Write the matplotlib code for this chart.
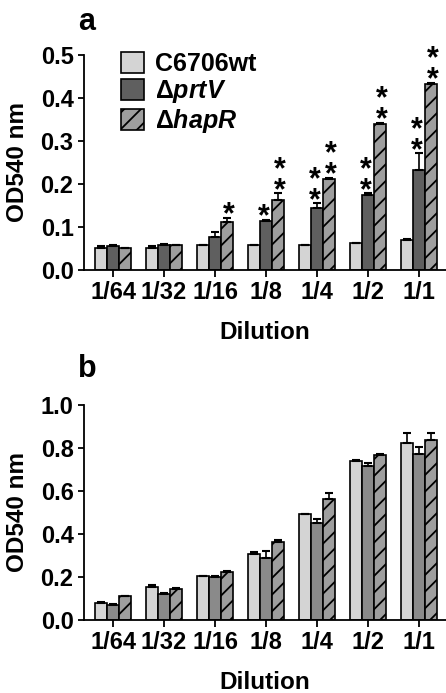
import numpy as np
import matplotlib
matplotlib.use("Agg")
import matplotlib.pyplot as plt

plt.rcParams['font.family'] = ['Liberation Sans', 'DejaVu Sans']
plt.rcParams['font.weight'] = 'bold'
plt.rcParams['hatch.linewidth'] = 1.3
plt.rcParams['mathtext.fontset'] = 'custom'
plt.rcParams['mathtext.rm'] = 'Liberation Sans'
plt.rcParams['mathtext.it'] = 'Liberation Sans:bold:italic'

# Data
dilutions = ['1/64', '1/32', '1/16', '1/8', '1/4', '1/2', '1/1']
strains = ['C6706wt', r'$\mathrm{\Delta}\mathit{prtV}$', r'$\mathrm{\Delta}\mathit{hapR}$']

# panel a
a_wt = [0.052, 0.052, 0.057, 0.057, 0.057, 0.062, 0.069]
a_wt_err = [0.003, 0.003, 0.0, 0.0, 0.0, 0.0, 0.003]
a_prtv = [0.055, 0.057, 0.077, 0.113, 0.145, 0.175, 0.233]
a_prtv_err = [0.002, 0.003, 0.012, 0.003, 0.010, 0.003, 0.038]
a_hapr = [0.052, 0.057, 0.112, 0.162, 0.212, 0.340, 0.433]
a_hapr_err = [0.0, 0.002, 0.010, 0.016, 0.003, 0.003, 0.003]
# significance stars (number of stars per bar)
a_prtv_stars = [0, 0, 0, 1, 2, 2, 2]
a_hapr_stars = [0, 0, 1, 2, 2, 2, 2]

# panel b
b_wt = [0.078, 0.155, 0.206, 0.308, 0.495, 0.738, 0.825]
b_wt_err = [0.006, 0.006, 0.0, 0.006, 0.0, 0.005, 0.045]
b_prtv = [0.070, 0.122, 0.200, 0.287, 0.452, 0.718, 0.770]
b_prtv_err = [0.005, 0.004, 0.006, 0.034, 0.020, 0.010, 0.035]
b_hapr = [0.110, 0.145, 0.223, 0.364, 0.561, 0.768, 0.835]
b_hapr_err = [0.0, 0.006, 0.005, 0.006, 0.032, 0.006, 0.034]

W, H = 446, 693
fig = plt.figure(figsize=(W / 100, H / 100), dpi=100)


def make_axes(top, bottom):
    return fig.add_axes([84 / W, 1 - bottom / H, (W - 84) / W, (bottom - top) / H])


def draw_panel(ax, vals, errs, colors, ymax, yticks):
    x = np.arange(len(dilutions))
    bw = 0.235
    for i, (v, e, c) in enumerate(zip(vals, errs, colors)):
        xi = x + (i - 1) * bw
        hatch = '//' if i == 2 else None
        ax.bar(xi, v, bw, color=c, edgecolor='black', linewidth=1.2,
               hatch=hatch, label=strains[i], zorder=2)
        ax.errorbar(xi, v, yerr=[np.zeros(len(v)), e], fmt='none',
                    ecolor='black', elinewidth=1.2, capsize=3, capthick=1.5, zorder=3)
    ax.set_xlim(-0.57, 6.53)
    ax.set_ylim(0, ymax)
    ax.set_yticks(yticks)
    ax.set_yticklabels([f'{t:.1f}' for t in yticks])
    ax.set_xticks(x)
    ax.set_xticklabels(dilutions)
    for s in ['top', 'right']:
        ax.spines[s].set_visible(False)
    for s in ['left', 'bottom']:
        ax.spines[s].set_linewidth(1.3)
    ax.tick_params(axis='both', labelsize=17, width=1.3, length=4)
    ax.tick_params(axis='x', length=5, pad=3)
    ax.set_xlabel('Dilution', fontsize=17.5, fontweight='bold', labelpad=12)
    ax.set_ylabel('OD540 nm', fontsize=17.5, fontweight='bold', labelpad=8)
    return x, bw


def stars(ax, xs, tops, counts, dx):
    for xi, t, n in zip(xs, tops, counts):
        if n == 0:
            continue
        ax.annotate('\n'.join(['*'] * n), (xi, t), xytext=(dx, -9), textcoords='offset points',
                    ha='center', va='bottom', fontsize=22, fontweight='bold',
                    linespacing=0.58, annotation_clip=False)


ax1 = make_axes(55, 270)
x, bw = draw_panel(ax1, [a_wt, a_prtv, a_hapr], [a_wt_err, a_prtv_err, a_hapr_err],
                   ['#d4d4d4', '#5f5f5f', '#9e9e9e'], 0.5, np.arange(0, 0.51, 0.1))
stars(ax1, x, np.array(a_prtv) + np.array(a_prtv_err), a_prtv_stars, -1.5)
stars(ax1, x + bw, np.array(a_hapr) + np.array(a_hapr_err), a_hapr_stars, 1)
ax1.legend(loc='upper left', bbox_to_anchor=(0.075, 1.06), frameon=False,
           prop={'size': 18, 'weight': 'bold'}, handlelength=0.9, handleheight=0.9,
           handletextpad=0.45, labelspacing=0.08, borderaxespad=0)
fig.text(78 / W, 1 - 30 / H, 'a', fontsize=22, fontweight='bold')

ax2 = make_axes(405, 620)
draw_panel(ax2, [b_wt, b_prtv, b_hapr], [b_wt_err, b_prtv_err, b_hapr_err],
           ['#d4d4d4', '#8a8a8a', '#9e9e9e'], 1.0, np.arange(0, 1.01, 0.2))
fig.text(78 / W, 1 - 377 / H, 'b', fontsize=22, fontweight='bold')

fig.savefig('out.png', dpi=100)
